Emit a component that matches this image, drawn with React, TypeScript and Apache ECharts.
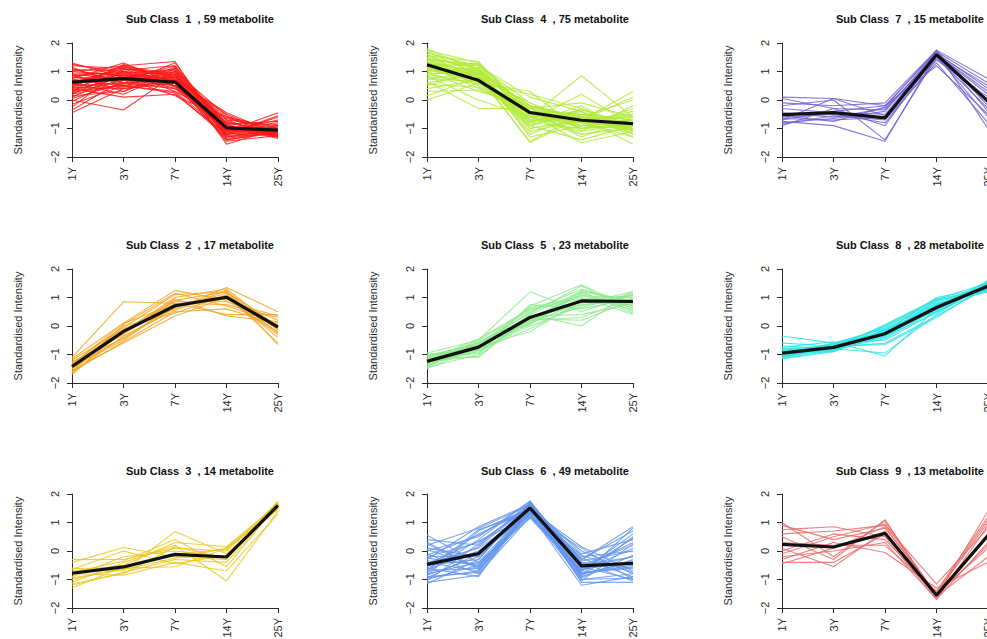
import React, { useEffect, useRef } from "react";
import * as echarts from "echarts";

const categories = ["1Y", "3Y", "7Y", "14Y", "25Y"];
const yMin = -2;
const yMax = 2;
const yInterval = 1;
const yAxisTitle = "Standardised Intensity";

const titles = [
  "Sub Class  1  , 59 metabolite",
  "Sub Class  2  , 17 metabolite",
  "Sub Class  3  , 14 metabolite",
  "Sub Class  4  , 75 metabolite",
  "Sub Class  5  , 23 metabolite",
  "Sub Class  6  , 49 metabolite",
  "Sub Class  7  , 15 metabolite",
  "Sub Class  8  , 28 metabolite",
  "Sub Class  9  , 13 metabolite",
];

const class1Mean = [0.63, 0.75, 0.63, -0.98, -1.06];
const class1Lines = [
  [1.25, 0.95, 1.05, -0.95, -1.2], [1.2, 1.1, 0.9, -0.8, -1.1], [1.1, 0.6, 1.3, -1.2, -0.9],
  [1.0, 1.2, 0.8, -0.7, -1.3], [0.95, 0.9, 0.5, -1.1, -1.0], [0.9, 0.3, 1.1, -1.3, -1.15],
  [0.85, 1.0, 0.7, -0.5, -1.25], [0.8, 0.7, 1.2, -1.0, -0.8], [0.75, 1.3, 0.6, -1.4, -1.1],
  [0.7, 0.5, 0.9, -0.9, -1.2], [0.7, 1.0, 0.3, -1.2, -0.6], [0.65, 0.8, 0.8, -0.6, -1.3],
  [0.6, 0.2, 1.0, -1.55, -1.0], [0.6, 1.1, 0.5, -0.8, -1.1], [0.55, 0.9, 0.4, -1.1, -0.45],
  [0.5, 0.6, 0.7, -0.45, -1.2], [0.5, 1.2, 1.35, -1.3, -1.05], [0.45, 0.4, 0.6, -1.0, -1.3],
  [0.4, 1.0, 0.9, -0.7, -0.9], [0.4, 0.1, 0.2, -1.2, -1.1], [0.35, 0.8, 1.1, -0.9, -1.25],
  [0.3, 1.25, 0.6, -1.1, -0.7], [0.3, 0.5, 0.3, -0.6, -1.0], [0.25, 0.7, 0.8, -1.4, -1.15],
  [0.2, 1.0, 0.5, -0.85, -1.3], [0.15, 0.3, 1.0, -1.0, -0.95], [0.1, 0.9, 0.7, -1.25, -1.1],
  [0.05, 0.6, 0.4, -0.75, -1.2], [0.0, -0.35, 0.9, -1.1, -0.85], [-0.05, 0.8, 0.6, -0.95, -1.35],
  [-0.15, 0.5, 0.25, -1.3, -1.0], [-0.25, 1.1, 0.8, -0.8, -1.1], [-0.35, 0.7, 0.5, -1.0, -1.2],
  [-0.45, 0.4, 0.7, -1.2, -0.55], [1.3, 0.8, 0.9, -1.05, -1.0], [1.15, 0.5, 0.6, -0.9, -1.3],
  [1.05, 1.05, 1.2, -1.35, -1.1], [0.9, 0.75, 0.15, -0.65, -1.05], [0.8, 1.15, 0.95, -1.15, -0.95],
  [0.65, 0.95, 0.65, -1.45, -1.25], [0.55, 0.45, 1.15, -0.85, -0.75], [0.45, 1.2, 0.45, -1.05, -1.15],
  [0.3, 0.85, 1.0, -0.55, -1.3], [0.2, 0.55, 0.85, -1.2, -1.0], [1.0, 0.85, 0.75, -1.0, -1.1],
];

const class2Mean = [-1.42, -0.19, 0.71, 1.01, -0.04];
const class2Lines = [
  [-1.1, 0.85, 0.8, 0.75, 0.3], [-1.15, 0.1, 1.25, 0.9, -0.2], [-1.2, -0.1, 0.6, 1.35, 0.5],
  [-1.3, -0.3, 0.9, 1.2, 0.0], [-1.35, 0.0, 0.45, 1.1, -0.6], [-1.4, -0.5, 0.8, 0.4, 0.4],
  [-1.45, -0.2, 1.0, 1.3, -0.1], [-1.5, -0.4, 0.7, 0.95, 0.2], [-1.55, -0.6, 0.35, 1.0, -0.3],
  [-1.6, 0.05, 1.15, 0.7, 0.1], [-1.65, -0.35, 0.55, 1.25, -0.65], [-1.7, -0.15, 0.85, 0.85, 0.35],
  [-1.25, -0.45, 0.65, 1.15, -0.25], [-1.5, -0.25, 0.95, 0.35, 0.15], [-1.35, 0.1, 0.75, 1.05, -0.4],
  [-1.6, -0.55, 0.5, 0.6, 0.05], [-1.45, -0.05, 1.1, 1.2, -0.15],
];

const class3Mean = [-0.78, -0.56, -0.12, -0.21, 1.6];
const class3Lines = [
  [-0.3, -0.3, 0.1, 0.0, 1.6], [-0.4, 0.12, -0.2, -0.3, 1.75], [-0.6, -0.7, 0.68, -0.1, 1.5],
  [-0.7, -0.5, 0.3, 0.15, 1.65], [-0.8, -0.85, -0.4, -0.7, 1.3], [-0.9, -0.2, 0.0, -0.2, 1.7],
  [-1.0, -0.6, -0.55, 0.1, 1.55], [-1.1, -0.4, 0.2, -1.05, 1.4], [-1.2, -0.75, -0.3, -0.4, 1.6],
  [-1.3, -0.55, -0.1, 0.05, 1.7], [-0.65, 0.0, -0.45, -0.15, 1.5], [-0.75, -0.35, 0.4, -0.55, 1.65],
  [-0.95, -0.65, -0.25, 0.1, 1.45], [-1.15, -0.8, 0.15, -0.25, 1.75],
];

const class4Mean = [1.24, 0.69, -0.44, -0.71, -0.83];
const class4Lines = [
  [1.8, 1.0, -0.2, -0.6, -0.9], [1.75, 1.3, -0.5, -0.8, -0.7], [1.7, 0.9, -0.8, -1.0, -0.5],
  [1.65, 1.2, 0.1, -0.4, -1.1], [1.6, 0.7, -0.3, -0.9, -0.8], [1.55, 1.35, -0.6, -0.5, -1.2],
  [1.5, 0.8, -1.0, -0.7, -0.6], [1.5, 1.1, -0.4, -1.2, -0.9], [1.45, 0.6, 0.2, -0.3, -1.0],
  [1.4, 1.25, -0.7, -0.8, -0.4], [1.4, 0.9, -1.5, -0.6, -0.8], [1.35, 0.5, -0.5, -1.5, -1.1],
  [1.3, 1.0, -0.2, -0.9, -0.7], [1.3, 0.7, -0.9, -0.4, -1.3], [1.25, 1.2, -0.6, 0.85, -0.6],
  [1.2, 0.4, -0.3, -1.0, -0.9], [1.2, 0.85, -1.1, -0.7, 0.3], [1.15, 1.3, -0.4, -0.5, -1.0],
  [1.1, 0.6, 0.3, -1.1, -0.8], [1.1, 1.0, -0.8, -0.2, -1.2], [1.05, 0.75, -0.5, -0.8, -0.5],
  [1.0, 1.15, -1.3, -0.9, -0.7], [1.0, 0.3, -0.2, -0.6, -1.0], [0.95, 0.9, -0.7, 0.2, -0.9],
  [0.9, 0.55, -0.4, -1.3, -0.6], [0.9, 1.1, -1.0, -0.7, 0.1], [0.85, 0.0, -0.6, -0.4, -1.1],
  [0.8, 0.8, -0.1, -1.0, -0.8], [0.75, 0.65, -0.8, -0.6, -1.55], [0.7, 1.05, -0.5, -0.9, -0.3],
  [0.65, -0.3, -0.3, -0.8, -0.9], [0.6, 0.9, -1.2, -0.5, -0.7], [0.55, 0.45, -0.6, -1.2, -1.0],
  [0.5, 1.0, -0.2, -0.7, -0.5], [0.4, 0.7, -0.9, -0.3, -1.2], [0.3, 0.35, -0.4, -1.0, -0.8],
  [0.15, 0.8, -0.7, -0.6, 0.0], [0.0, 0.6, -0.5, -0.9, -1.0], [1.7, 1.1, -0.3, -0.1, -0.6],
  [1.6, 0.95, -0.9, -1.4, -0.9], [1.45, 1.2, -0.1, -0.8, -1.3], [1.35, 0.8, -1.45, -0.5, -0.7],
  [1.25, 1.05, -0.55, -1.1, -0.2], [1.15, 0.65, -0.25, -0.65, -1.05], [1.05, 0.95, -0.75, -0.35, -0.85],
];

const class5Mean = [-1.24, -0.74, 0.3, 0.88, 0.86];
const class5Lines = [
  [-0.95, -0.5, 1.2, 0.5, 1.1], [-1.0, -0.8, 0.7, 1.45, 0.6], [-1.05, -0.6, 0.1, 1.2, 0.9],
  [-1.1, -1.1, 0.4, 0.0, 1.25], [-1.15, -0.7, -0.2, 0.9, 0.8], [-1.2, -0.45, 0.6, 1.0, 0.4],
  [-1.25, -0.9, 0.2, 0.3, 1.0], [-1.3, -0.65, 0.5, 1.3, 0.7], [-1.35, -0.8, 0.0, 0.7, 1.15],
  [-1.4, -0.55, 0.3, 1.1, 0.55], [-1.45, -1.0, 0.75, 0.6, 0.95], [-1.5, -0.75, 0.15, 1.25, 0.85],
  [-1.0, -0.85, -0.1, 0.8, 1.2], [-1.1, -0.6, 0.45, 1.4, 0.5], [-1.2, -0.95, 0.25, 0.2, 0.9],
  [-1.3, -0.5, 0.55, 0.95, 1.05], [-1.4, -0.7, 0.05, 1.15, 0.65], [-1.25, -1.05, 0.35, 0.4, 0.8],
  [-1.15, -0.65, 0.65, 1.05, 1.0], [-1.35, -0.85, 0.1, 0.85, 0.75], [-1.05, -0.75, 0.4, 1.2, 0.45],
  [-1.45, -0.6, 0.2, 0.65, 1.1], [-1.2, -0.8, 0.3, 0.75, 0.9],
];

const class6Mean = [-0.47, -0.09, 1.51, -0.52, -0.43];
const class6Lines = [
  [0.55, -0.4, 1.5, -0.6, -0.2], [0.4, 0.2, 1.7, -0.3, 0.85], [0.3, -0.6, 1.3, -0.8, -0.5],
  [0.2, 0.8, 1.6, -0.1, 0.4], [0.1, -0.2, 1.45, -1.0, -0.8], [0.0, 0.5, 1.75, -0.5, 0.2],
  [-0.1, -0.8, 1.2, 0.1, -1.0], [-0.2, 0.3, 1.55, -0.7, 0.6], [-0.25, -0.5, 1.4, -0.4, -0.6],
  [-0.3, 0.85, 1.65, -0.9, -0.3], [-0.4, -0.7, 1.5, -0.2, 0.0], [-0.45, 0.1, 1.3, -1.2, -0.9],
  [-0.5, -0.3, 1.7, -0.6, 0.3], [-0.55, 0.6, 1.45, 0.15, -0.7], [-0.6, -0.9, 1.6, -0.8, -0.4],
  [-0.65, 0.0, 1.35, -0.3, 0.7], [-0.7, -0.6, 1.55, -1.1, -1.1], [-0.75, 0.4, 1.75, -0.5, -0.2],
  [-0.8, -0.4, 1.15, -0.7, 0.1], [-0.85, 0.7, 1.5, 0.0, -0.8], [-0.9, -0.75, 1.4, -0.9, 0.5],
  [-0.95, -0.1, 1.65, -0.45, -0.5], [-1.0, -0.5, 1.3, -1.0, -0.95], [-1.05, 0.25, 1.6, -0.35, 0.0],
  [-1.1, -0.85, 1.45, -0.75, -0.6], [-1.15, -0.3, 1.7, -0.55, -1.0], [0.25, -0.65, 1.25, -0.65, -0.35],
  [-0.15, 0.55, 1.55, -0.85, 0.8], [-0.35, -0.45, 1.35, -0.15, -0.75], [-0.6, 0.15, 1.6, -1.05, 0.25],
  [-0.85, -0.2, 1.5, -0.6, -0.45], [-0.7, 0.75, 1.4, -0.25, -0.9], [0.05, -0.55, 1.65, -0.95, -0.15],
  [-0.45, 0.35, 1.2, -0.7, 0.45], [-0.95, -0.7, 1.55, -0.4, -1.05], [-0.2, -0.15, 1.45, -0.8, -0.55],
];

const class7Mean = [-0.51, -0.44, -0.63, 1.59, -0.05];
const class7Lines = [
  [0.1, 0.05, -0.2, 1.7, 0.6], [0.05, -0.3, -0.35, 1.6, 0.2], [-0.1, -0.2, -0.1, 1.75, 0.75],
  [-0.2, 0.0, -1.4, 1.5, -0.3], [-0.3, -0.45, -0.5, 1.65, 0.4], [-0.45, -0.6, -0.3, 1.55, -0.6],
  [-0.6, -0.5, -0.8, 1.4, 0.1], [-0.65, -0.7, -0.6, 1.7, -1.0], [-0.7, -0.4, -0.2, 1.2, -0.5],
  [-0.75, -0.9, -1.45, 1.6, 0.3], [-0.8, -0.65, -0.4, 1.7, -0.2], [-0.85, -0.55, -0.7, 1.3, -0.8],
  [-0.9, -0.3, -0.9, 1.6, 0.5], [-0.55, -0.75, -0.25, 1.75, -0.4], [-0.7, 0.05, -0.55, 1.45, 0.0],
];

const class8Mean = [-0.95, -0.75, -0.27, 0.65, 1.4];
const class8Lines = [
  [-0.35, -0.6, -0.5, 0.5, 1.3], [-0.6, -0.7, -0.65, 0.3, 1.45], [-0.7, -0.8, -0.95, 0.4, 1.55],
  [-0.75, -0.55, -1.05, 0.6, 1.4], [-0.8, -0.85, 0.0, 0.9, 1.25], [-0.85, -0.65, -0.2, 1.0, 1.35],
  [-0.9, -0.75, -0.4, 0.7, 1.5], [-0.95, -0.9, -0.1, 0.8, 1.2], [-1.0, -0.7, -0.3, 0.55, 1.6],
  [-1.0, -0.8, 0.05, 0.95, 1.3], [-1.05, -0.6, -0.25, 0.65, 1.45], [-1.1, -0.75, -0.15, 0.75, 1.35],
  [-1.15, -0.85, -0.35, 0.45, 1.5], [-1.1, -0.65, -0.05, 0.85, 1.25], [-1.05, -0.8, -0.45, 0.6, 1.4],
  [-0.95, -0.7, -0.2, 0.7, 1.55], [-0.9, -0.85, -0.3, 0.9, 1.3], [-1.0, -0.6, -0.1, 0.5, 1.45],
  [-0.85, -0.75, -0.6, 0.35, 1.35], [-1.15, -0.9, -0.25, 0.8, 1.2], [-0.8, -0.7, 0.0, 0.95, 1.5],
  [-1.05, -0.75, -0.15, 0.65, 1.4], [-0.95, -0.65, -0.35, 0.75, 1.3], [-1.1, -0.8, -0.2, 0.55, 1.45],
];

const class9Mean = [0.23, 0.14, 0.62, -1.55, 0.55];
const class9Lines = [
  [1.0, -0.2, 1.05, -1.6, 1.4], [0.9, 0.4, 0.8, -1.5, 1.0], [0.75, 0.85, 0.5, -1.7, 0.3],
  [0.6, 0.7, 0.9, -1.15, 0.8], [0.5, -0.3, 1.1, -1.6, -0.2], [0.3, 0.2, 0.2, -1.4, 1.2],
  [0.1, -0.55, 0.7, -1.65, 0.6], [-0.1, 0.5, 0.95, -1.5, 0.1], [-0.2, 0.0, 0.3, -1.7, 0.9],
  [-0.3, 0.3, -0.05, -1.3, -0.4], [-0.4, -0.4, 0.6, -1.6, 0.5], [-0.45, 0.1, 0.85, -1.55, 0.2],
  [0.0, 0.6, 0.4, -1.45, 1.1],
];

const allLines = [class1Lines, class2Lines, class3Lines, class4Lines, class5Lines, class6Lines, class7Lines, class8Lines, class9Lines];
const allMeans = [class1Mean, class2Mean, class3Mean, class4Mean, class5Mean, class6Mean, class7Mean, class8Mean, class9Mean];

// styling / layout (not data)
const colors = ["#FF1A1A", "#F4A521", "#EBC71C", "#B2EA3C", "#8FEA8F", "#6495ED", "#7062D4", "#2EE3E3", "#EC6A6A"];
const colX = [72, 427, 782];
const rowY = [43, 269, 494];
const titleX = [200, 555, 910];
const titleY = [13, 239, 465];
const plotW = 206;
const plotH = 114;
const FONT = "'Liberation Sans', Arial, Helvetica, sans-serif";
const INK = "#2a2a2a";

export default function App() {
  const ref = useRef<HTMLDivElement>(null);
  useEffect(() => {
    document.body.style.margin = "0";
    const chart = echarts.init(ref.current!, undefined, { renderer: "svg" });
    const grids: any[] = [];
    const xAxes: any[] = [];
    const yAxes: any[] = [];
    const series: any[] = [];
    const title: any[] = [];
    for (let i = 0; i < 9; i++) {
      const col = Math.floor(i / 3);
      const row = i % 3;
      grids.push({ left: colX[col], top: rowY[row], width: plotW, height: plotH, containLabel: false });
      title.push({
        text: titles[i],
        left: titleX[col],
        top: titleY[row],
        textAlign: "center",
        padding: 0,
        textStyle: { fontFamily: FONT, fontSize: 11, fontWeight: "bold", color: "#111" },
      });
      xAxes.push({
        type: "category",
        gridIndex: i,
        data: categories,
        boundaryGap: false,
        axisLine: { show: true, onZero: false, lineStyle: { color: INK, width: 1 } },
        axisTick: { show: true, length: 5, lineStyle: { color: INK } },
        axisLabel: { rotate: 90, interval: 0, margin: 10, fontSize: 11, fontFamily: FONT, color: INK },
        splitLine: { show: false },
      });
      yAxes.push({
        type: "value",
        gridIndex: i,
        min: yMin,
        max: yMax,
        interval: yInterval,
        name: yAxisTitle,
        nameLocation: "middle",
        nameRotate: 90,
        nameGap: 49,
        nameTextStyle: { fontFamily: FONT, fontSize: 11, color: INK },
        axisLine: { show: true, lineStyle: { color: INK, width: 1 } },
        axisTick: { show: true, length: 5, lineStyle: { color: INK } },
        axisLabel: {
          rotate: 90,
          margin: 12,
          fontSize: 11,
          fontFamily: FONT,
          color: INK,
          formatter: (v: number) => String(v).replace("-", "\u2212"),
        },
        splitLine: { show: false },
      });
      allLines[i].forEach((vals) => {
        series.push({
          type: "line",
          xAxisIndex: i,
          yAxisIndex: i,
          data: vals,
          symbol: "none",
          silent: true,
          lineStyle: { color: colors[i], width: 1.1, opacity: 0.85 },
          z: 2,
        });
      });
      series.push({
        type: "line",
        xAxisIndex: i,
        yAxisIndex: i,
        data: allMeans[i],
        symbol: "none",
        silent: true,
        lineStyle: { color: "#111", width: 3.2 },
        z: 3,
      });
    }
    chart.setOption({
      animation: false,
      backgroundColor: "#ffffff",
      title,
      grid: grids,
      xAxis: xAxes,
      yAxis: yAxes,
      series,
    });
    return () => chart.dispose();
  }, []);
  return (
    <div style={{ position: "absolute", left: 0, top: 0, width: 987, height: 639, overflow: "hidden" }}>
      <div ref={ref} style={{ width: 1040, height: 680 }} />
    </div>
  );
}
